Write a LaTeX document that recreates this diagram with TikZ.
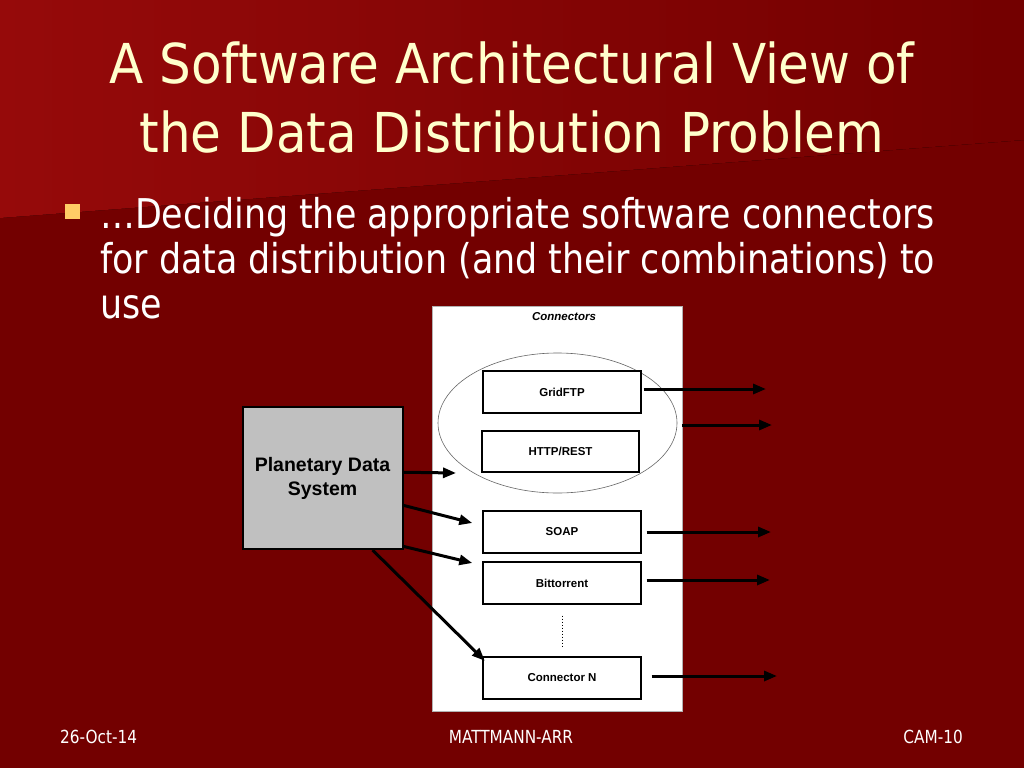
\documentclass[tikz,border=0pt]{standalone}
\usepackage{fontspec}
\setmainfont{Liberation Sans}
\newfontfamily\titlefont[FakeStretch=1.01]{DejaVu Sans Condensed}
\newfontfamily\slidefont[FakeStretch=0.945]{DejaVu Sans Condensed}
\usetikzlibrary{arrows.meta,shapes.geometric,calc}
\definecolor{bgred}{RGB}{115,0,0}
\definecolor{bglight}{RGB}{150,10,10}
\definecolor{titlecol}{RGB}{255,255,204}
\definecolor{bulletcol}{RGB}{255,204,102}
\definecolor{pdsgray}{RGB}{192,192,192}
\begin{document}
\begin{tikzpicture}[x=1pt,y=-1pt,
  titletext/.style={text=titlecol,font=\titlefont\fontsize{55}{60}\selectfont,inner sep=0pt,anchor=base},
  bodytext/.style={text=white,font=\slidefont\fontsize{41}{46}\selectfont,inner sep=0pt,anchor=base west},
  foottext/.style={text=white,font=\slidefont\fontsize{18}{20}\selectfont,inner sep=0pt,anchor=base},
  connbox/.style={draw=black,line width=1.4pt,fill=white,minimum width=158pt,minimum height=42pt,inner sep=0pt,font=\bfseries\fontsize{11.5}{13}\selectfont},
  arr/.style={draw=black,line width=3pt,-{Triangle[length=13pt,width=10pt]}}]
\useasboundingbox (0,0) rectangle (1024,768);
% background
\fill[bgred] (0,0) rectangle (1024,768);
\fill[left color=bglight,right color=bgred] (0,0) -- (1024,0) -- (1024,140) -- (0,218) -- cycle;
% title
\node[titletext] (t1) at (512,83) {A Software Architectural View of};
\node[titletext] (t2) at (512,152) {the Data Distribution Problem};
% bullet
\node[fill=bulletcol,minimum width=15pt,minimum height=15pt,inner sep=0pt] (bul) at (72.5,211.5) {};
\node[bodytext] (b1) at (100,228) {\char"2026 Deciding the appropriate software connectors};
\node[bodytext] (b2) at (100,273) {for data distribution (and their combinations) to};
\node[bodytext] (b3) at (100,318) {use};
% diagram panel
\node[fill=white,draw=gray!60,line width=0.4pt,minimum width=250pt,minimum height=405pt,inner sep=0pt] (panel) at (557.5,508.5) {};
\node[font=\bfseries\itshape\fontsize{11.5}{13}\selectfont,anchor=base] (clabel) at (564,320.7) {Connectors};
\node[ellipse,draw=black!60,line width=0.6pt,minimum width=239pt,minimum height=140pt,inner sep=0pt] (ell) at (557.5,423) {};
\node[connbox] (grid) at (562,392) {GridFTP};
\node[connbox,minimum width=157pt,minimum height=41pt] (http) at (560.5,451.5) {HTTP/REST};
\node[connbox] (soap) at (562,532) {SOAP};
\node[connbox] (bitt) at (562,583) {Bittorrent};
\node[connbox] (connN) at (562,678) {Connector N};
\draw[black,line width=1pt,dotted] ([yshift=-11pt]bitt.south) -- ([yshift=10pt]connN.north);
% PDS
\node[draw=black,line width=2pt,fill=pdsgray,minimum width=160pt,minimum height=142pt,inner sep=0pt,align=center,font=\bfseries\fontsize{19.5}{24}\selectfont] (pds) at (322.5,478) {Planetary Data\\System};
% arrows in
\coordinate (e1) at (456,473);
\draw[arr] ($(pds.north east)!0.46!(pds.south east)$) -- (e1);
\draw[arr] ($(pds.north east)!0.69!(pds.south east)$) -- ([xshift=-10pt,yshift=9pt]soap.west);
\draw[arr] ($(pds.north east)!0.975!(pds.south east)$) -- ([xshift=-10pt,yshift=20pt]bitt.west);
\draw[arr] ([xshift=50pt]pds.south) -- ([xshift=2.5pt,yshift=-4.5pt]connN.north west);
% arrows out
\coordinate (o1) at (766,389);
\coordinate (o2) at (772,425);
\coordinate (o3) at (771,532);
\coordinate (o4) at (770,580);
\coordinate (o5) at (777,676);
\draw[arr] ([xshift=2pt,yshift=3pt]grid.east) -- (o1);
\draw[arr] ([xshift=4.5pt,yshift=-2pt]ell.east) -- (o2);
\draw[arr] ([xshift=5pt]soap.east) -- (o3);
\draw[arr] ([xshift=5pt,yshift=3pt]bitt.east) -- (o4);
\draw[arr] ([xshift=10pt,yshift=2pt]connN.east) -- (o5);
% footer
\node[foottext,anchor=base west] (f1) at (60,743) {26-Oct-14};
\node[foottext] (f2) at (511,743) {MATTMANN-ARR};
\node[foottext,anchor=base east] (f3) at (963,743) {CAM-10};
\end{tikzpicture}
\end{document}
